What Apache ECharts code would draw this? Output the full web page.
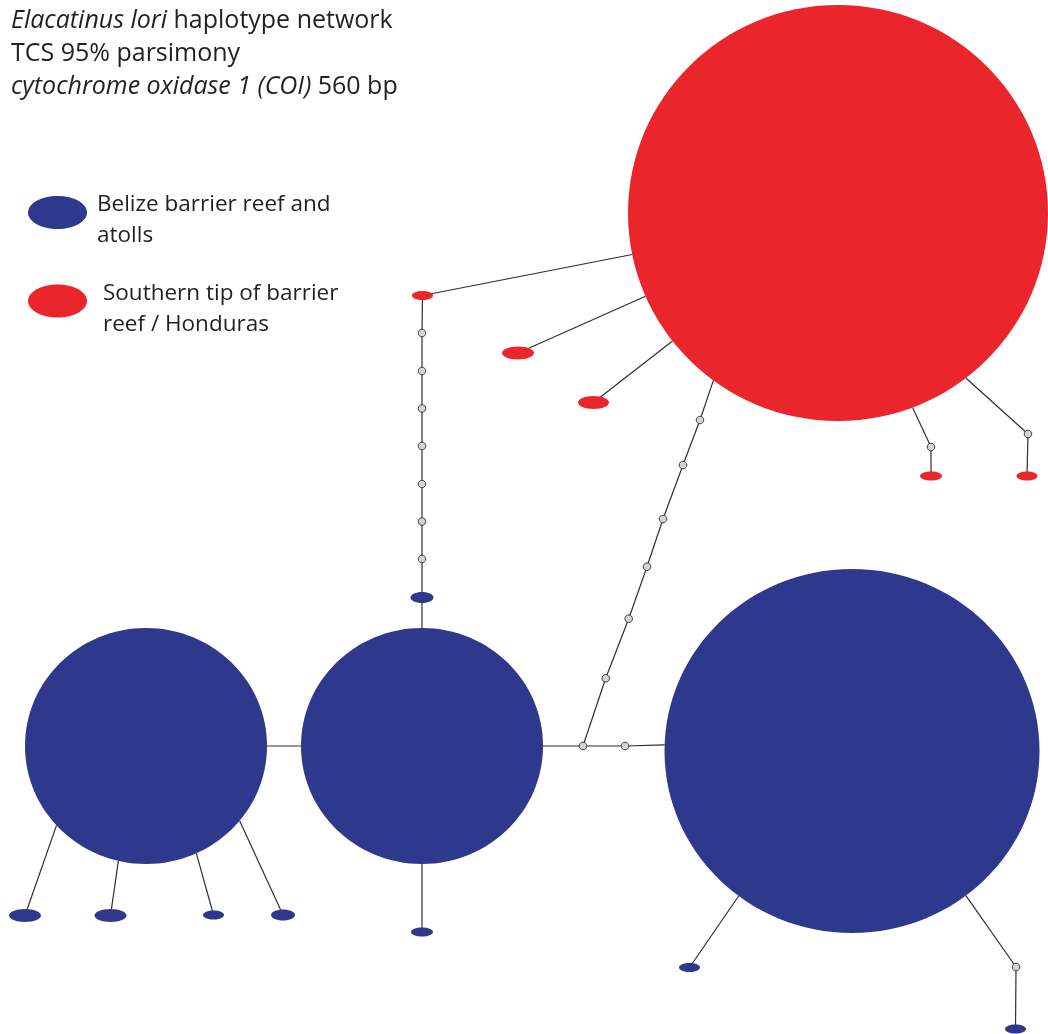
<!DOCTYPE html>
<html>
<head>
<meta charset="utf-8">
<title>Elacatinus lori haplotype network</title>
<script src="https://cdn.jsdelivr.net/npm/echarts@6/dist/echarts.min.js"></script>
<style>
  html, body { margin: 0; padding: 0; background: #ffffff; }
  #chart { width: 1048px; height: 1034px; }
</style>
</head>
<body>
<div id="chart"></div>
<script>
// Network layout space (same extent as the drawing area)
const spanX = 1048;
const spanY = 1034;

// Haplotypes: region, position in the layout, and ellipse radii (haplotype frequency)
const nodeName = [
  'B1', 'B2', 'B3', 'b4', 'b5', 'b6', 'b7', 'b8', 'b9', 'b10', 'b11',
  'R1', 'r2', 'r3', 'r4', 'r5', 'r6',
  'm1', 'm2', 'm3', 'm4', 'm5', 'm6', 'm7', 'm8', 'm9',
  'm10', 'm11', 'm12', 'm13', 'm14', 'm15', 'm16', 'm17', 'm18'
];
const nodeRegion = [
  'belize', 'belize', 'belize', 'belize', 'belize', 'belize', 'belize', 'belize', 'belize', 'belize', 'belize',
  'south', 'south', 'south', 'south', 'south', 'south',
  'missing', 'missing', 'missing', 'missing', 'missing', 'missing', 'missing', 'missing', 'missing',
  'missing', 'missing', 'missing', 'missing', 'missing', 'missing', 'missing', 'missing', 'missing'
];
const nodeX = [
  852, 422, 146, 422, 422, 25, 110.5, 213.5, 283, 689.5, 1015.5,
  838, 422.5, 518, 593.5, 931, 1027,
  422, 422, 422, 422, 422, 422, 422, 583, 625,
  605.7, 628.7, 647, 663, 683, 700, 931, 1028, 1016
];
const nodeY = [
  751, 746, 746, 597.5, 932, 915.5, 915.5, 915, 915, 967.5, 1029,
  213, 295.5, 353, 402.5, 476, 476,
  333, 371, 408.5, 446, 484, 521.5, 559, 746, 746,
  678.3, 618.7, 566.7, 519, 465, 420, 447, 434, 967
];
const nodeRx = [
  187.5, 121, 121, 11.5, 11, 16, 16, 10.5, 12, 10.5, 10.5,
  210, 10.5, 16, 15.5, 11, 10.5,
  3.8, 3.8, 3.8, 3.8, 3.8, 3.8, 3.8, 3.8, 3.8,
  3.8, 3.8, 3.8, 3.8, 3.8, 3.8, 3.8, 3.8, 3.8
];
const nodeRy = [
  182, 118, 118, 5.5, 4.5, 6.5, 6.5, 4.5, 5.5, 4.5, 4.5,
  208, 4.5, 6.5, 6.5, 4.5, 4.5,
  3.8, 3.8, 3.8, 3.8, 3.8, 3.8, 3.8, 3.8, 3.8,
  3.8, 3.8, 3.8, 3.8, 3.8, 3.8, 3.8, 3.8, 3.8
];

// Mutational steps: source, target, and where the step meets the target's border (degrees, null = centre)
const linkSource = [
  'm1', 'm1', 'm2', 'm3', 'm4', 'm5', 'm6', 'm7', 'b4',
  'B3', 'B2', 'm8', 'm9',
  'm8', 'm10', 'm11', 'm12', 'm13', 'm14', 'm15',
  'r2', 'r3', 'r4', 'r5', 'm16', 'r6', 'm17',
  'b5', 'b6', 'b7', 'b8', 'b9',
  'b10', 'm18', 'm18'
];
const linkTarget = [
  'r2', 'm2', 'm3', 'm4', 'm5', 'm6', 'm7', 'b4', 'B2',
  'B2', 'm8', 'm9', 'B1',
  'm10', 'm11', 'm12', 'm13', 'm14', 'm15', 'R1',
  'R1', 'R1', 'R1', 'm16', 'R1', 'm17', 'R1',
  'B2', 'B3', 'B3', 'B3', 'B3',
  'B1', 'B1', 'b11'
];
const linkAngle = [
  null, null, null, null, null, null, null, null, -90,
  null, null, null, 181.9,
  null, null, null, null, null, null, 126.4,
  168.5, 156.4, 142.0, null, 69.2, null, 52.5,
  90, 137.7, 103.2, 65.4, 39.3,
  127.2, 52.6, null
];

// Key entries
const regionKeys = ['belize', 'south'];
const regionNames = ['Belize barrier reef and atolls', 'Southern tip of barrier reef / Honduras'];
const regionLabels = ['Belize barrier reef and\natolls', 'Southern tip of barrier\nreef / Honduras'];

const COLORS = { belize: '#2e388c', south: '#ea262c', missing: '#d3d3d3' };
const EDGE = '#2f2f2f';
const TEXT = '#231f20';
const FONT = '"Open Sans", "Noto Sans", sans-serif';

const idx = {};
nodeName.forEach((n, i) => { idx[n] = i; });

// Segment end points for each mutational step
const linkData = linkSource.map((s, k) => {
  const a = idx[s];
  const b = idx[linkTarget[k]];
  let x2 = nodeX[b];
  let y2 = nodeY[b];
  const ang = linkAngle[k];
  if (ang !== null) {
    const t = ang * Math.PI / 180;
    x2 = nodeX[b] + nodeRx[b] * Math.cos(t);
    y2 = nodeY[b] + nodeRy[b] * Math.sin(t);
  }
  return [nodeX[a], nodeY[a], x2, y2];
});

function nodesOf(region) {
  const out = [];
  nodeName.forEach((n, i) => {
    if (nodeRegion[i] === region) out.push([nodeX[i], nodeY[i], nodeRx[i], nodeRy[i]]);
  });
  return out;
}

function renderNode(stroke, lineWidth) {
  return function (params, api) {
    const c = api.coord([api.value(0), api.value(1)]);
    const s = api.size([api.value(2), api.value(3)], [api.value(0), api.value(1)]);
    return {
      type: 'ellipse',
      shape: { cx: c[0], cy: c[1], rx: s[0], ry: s[1] },
      style: { fill: api.visual('color'), stroke: stroke, lineWidth: lineWidth }
    };
  };
}

// Key: an oval swatch followed by a two-line label for each region
function keyEntry(k, cy, textX) {
  return {
    type: 'group',
    children: [
      {
        type: 'ellipse',
        shape: { cx: 57.5, cy: cy, rx: 29.5, ry: 16.5 },
        style: { fill: COLORS[regionKeys[k]] }
      },
      {
        type: 'text',
        x: textX,
        y: cy + 8,
        style: {
          text: regionLabels[k],
          font: '22.5px ' + FONT,
          fill: TEXT,
          lineHeight: 31,
          verticalAlign: 'middle'
        }
      }
    ]
  };
}

const chart = echarts.init(document.getElementById('chart'), null, { renderer: 'canvas' });

const option = {
  backgroundColor: '#ffffff',
  animation: false,
  title: {
    left: 6,
    top: -1,
    text: '{i|Elacatinus lori} haplotype network\nTCS 95% parsimony\n{i|cytochrome oxidase 1 (COI)} 560 bp',
    textStyle: {
      fontFamily: FONT,
      fontSize: 25,
      fontWeight: 'normal',
      color: TEXT,
      lineHeight: 33,
      rich: {
        i: { fontFamily: FONT, fontSize: 25, fontStyle: 'italic', color: TEXT, lineHeight: 33 }
      }
    }
  },
  graphic: [keyEntry(0, 212.5, 97), keyEntry(1, 301, 103)],
  grid: { left: 0, right: 0, top: 0, bottom: 0 },
  xAxis: { type: 'value', min: 0, max: spanX, show: false },
  yAxis: { type: 'value', min: 0, max: spanY, inverse: true, show: false },
  series: [
    {
      name: 'steps',
      type: 'custom',
      z: 1,
      clip: false,
      silent: true,
      data: linkData,
      renderItem: function (params, api) {
        const p1 = api.coord([api.value(0), api.value(1)]);
        const p2 = api.coord([api.value(2), api.value(3)]);
        return {
          type: 'line',
          shape: { x1: p1[0], y1: p1[1], x2: p2[0], y2: p2[1] },
          style: { stroke: EDGE, lineWidth: 1.2 }
        };
      }
    },
    {
      name: regionNames[0],
      type: 'custom',
      z: 2,
      clip: false,
      itemStyle: { color: COLORS.belize },
      data: nodesOf(regionKeys[0]),
      renderItem: renderNode(null, 0)
    },
    {
      name: regionNames[1],
      type: 'custom',
      z: 2,
      clip: false,
      itemStyle: { color: COLORS.south },
      data: nodesOf(regionKeys[1]),
      renderItem: renderNode(null, 0)
    },
    {
      name: 'inferred',
      type: 'custom',
      z: 3,
      clip: false,
      itemStyle: { color: COLORS.missing },
      data: nodesOf('missing'),
      renderItem: renderNode('#3a3a3a', 1)
    }
  ]
};

chart.setOption(option);
</script>
</body>
</html>
